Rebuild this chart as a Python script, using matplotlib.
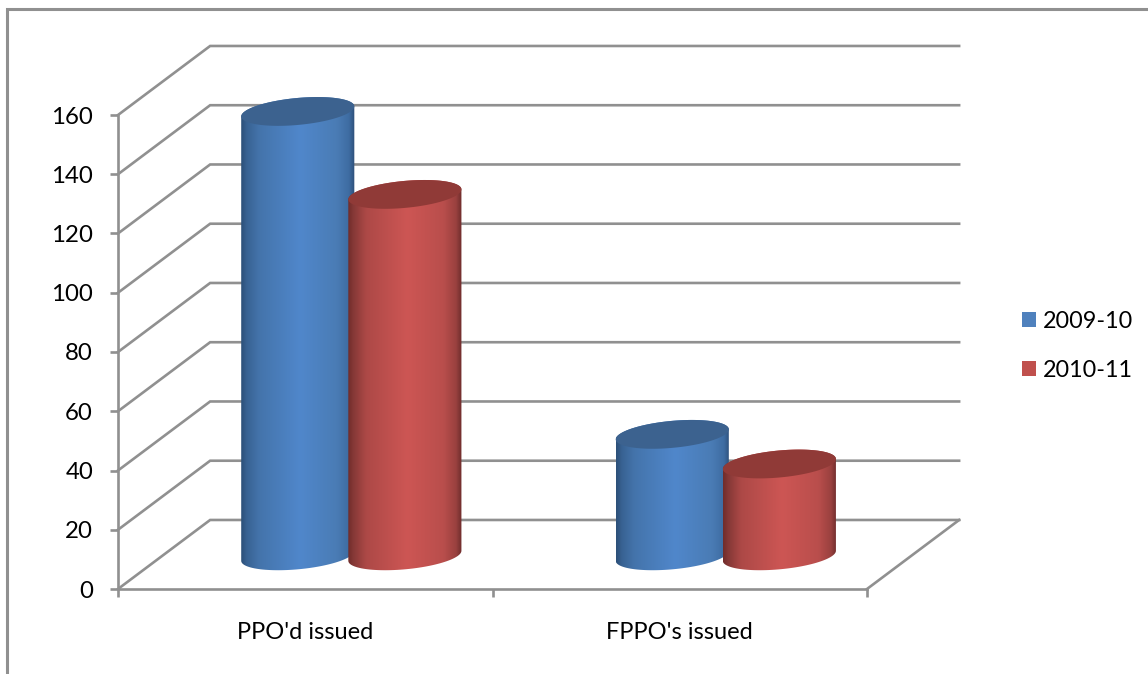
import matplotlib
matplotlib.use("Agg")
import matplotlib.pyplot as plt
import numpy as np
from matplotlib.colors import LinearSegmentedColormap
from matplotlib.lines import Line2D
from matplotlib.patches import Patch, PathPatch, Polygon
from matplotlib.path import Path

plt.rcParams['font.family'] = ['Lato', 'DejaVu Sans']

# Data
categories = ["PPO'd issued", "FPPO's issued"]
series_names = ["2009-10", "2010-11"]
values_2009 = [150, 41]
values_2010 = [122, 31]
y_ticks = list(range(0, 161, 20))

# Look of the fake 3D box, in data units
depth_x = 0.246
depth_y = 23.3
offset = 0.143
half_w = 0.151
ell_b = 4.56
ell_tilt = 1.69
grid_col = "#909090"

stop_pos = [0, 0.05, 0.16, 0.52, 0.84, 0.95, 1]
blue_stops = ["#2c4f78", "#386292", "#4474ab", "#5087cb", "#4a7cb5", "#3e6ca2", "#2d4e78"]
red_stops = ["#702d2b", "#873937", "#ad4947", "#cd5654", "#b94e4c", "#9a413f", "#6d2c2b"]
top_cols = ["#3c628f", "#903a37"]
legend_cols = ["#4f81bd", "#c0504d"]

fig = plt.figure(figsize=(11.48, 6.74), dpi=100)
ax = fig.add_axes([118 / 1148, 85 / 674, 749 / 1148, 474 / 674])
ax.set_xlim(0, 2)
ax.set_ylim(0, 160)
ax.patch.set_visible(False)


def ellipse(cx, cy, t):
    return np.column_stack([cx + half_w * np.cos(t),
                            cy + ell_tilt * np.cos(t) + ell_b * np.sin(t)])


def cylinder(cx, value, cmap, top_col, z):
    base = depth_y / 2 - 0.45
    low = ellipse(cx, base, np.linspace(np.pi, 2 * np.pi, 60))
    high = ellipse(cx, value + base, np.linspace(0, np.pi, 60))
    body = PathPatch(Path(np.vstack([low, high, low[:1]])), transform=ax.transData,
                     fc="none", ec="none")
    grad = np.linspace(0, 1, 256).reshape(1, -1)
    im = ax.imshow(grad, cmap=cmap, aspect="auto", zorder=z,
                   extent=[cx - half_w, cx + half_w, base - 10, value + base + 10])
    im.set_clip_box(fig.bbox)
    im.set_clip_path(body)
    top = ellipse(cx, value + base, np.linspace(0, 2 * np.pi, 120))
    ax.add_patch(Polygon(top, closed=True, fc=top_col, ec="none", zorder=z + 0.1, clip_on=False))


# back wall and side wall lines
for v in y_ticks:
    ax.plot([0, depth_x, 2 + depth_x], [v, v + depth_y, v + depth_y],
            color=grid_col, lw=1.9, clip_on=False, zorder=1, solid_joinstyle="miter")
ax.plot([2, 2 + depth_x], [0, depth_y], color=grid_col, lw=1.9, clip_on=False, zorder=1)

cmaps = [LinearSegmentedColormap.from_list("b", list(zip(stop_pos, blue_stops))),
         LinearSegmentedColormap.from_list("r", list(zip(stop_pos, red_stops)))]
for i in range(len(categories)):
    cx = i + 0.5 + depth_x / 2
    cylinder(cx - offset, values_2009[i], cmaps[0], top_cols[0], 3)
    cylinder(cx + offset, values_2010[i], cmaps[1], top_cols[1], 4)

ax.set_xlim(0, 2)
ax.set_ylim(0, 160)

for s in ["top", "right"]:
    ax.spines[s].set_visible(False)
for s in ["left", "bottom"]:
    ax.spines[s].set_color(grid_col)
    ax.spines[s].set_linewidth(1.9)
    ax.spines[s].set_zorder(2)

ax.set_yticks(y_ticks)
ax.set_xticks([0, 1, 2])
ax.set_xticklabels([])
ax.set_xticks([0.5, 1.5], minor=True)
ax.set_xticklabels(categories, minor=True, fontsize=17)
ax.tick_params(axis="x", which="minor", length=0, pad=24, labelcolor="black")
ax.tick_params(axis="both", which="major", length=6, width=1.9, color=grid_col)
ax.tick_params(axis="y", labelsize=17.3, pad=12)

handles = [Patch(fc=c, ec="none") for c in legend_cols]
fig.legend(handles, series_names, loc="center left", bbox_to_anchor=(1022 / 1148, 1 - 346 / 674),
           frameon=False, fontsize=16.8, handlelength=0.62, handleheight=0.62,
           handletextpad=0.27, labelspacing=1.2, borderpad=0, borderaxespad=0)

# outer frame of the pasted chart, only top and left are in the crop
fig.add_artist(Line2D([6.5 / 1148, 6.5 / 1148, 1], [0, 1 - 9 / 674, 1 - 9 / 674],
                      color=grid_col, lw=2.2, solid_joinstyle="miter"))

fig.savefig("out.png", dpi=100)
